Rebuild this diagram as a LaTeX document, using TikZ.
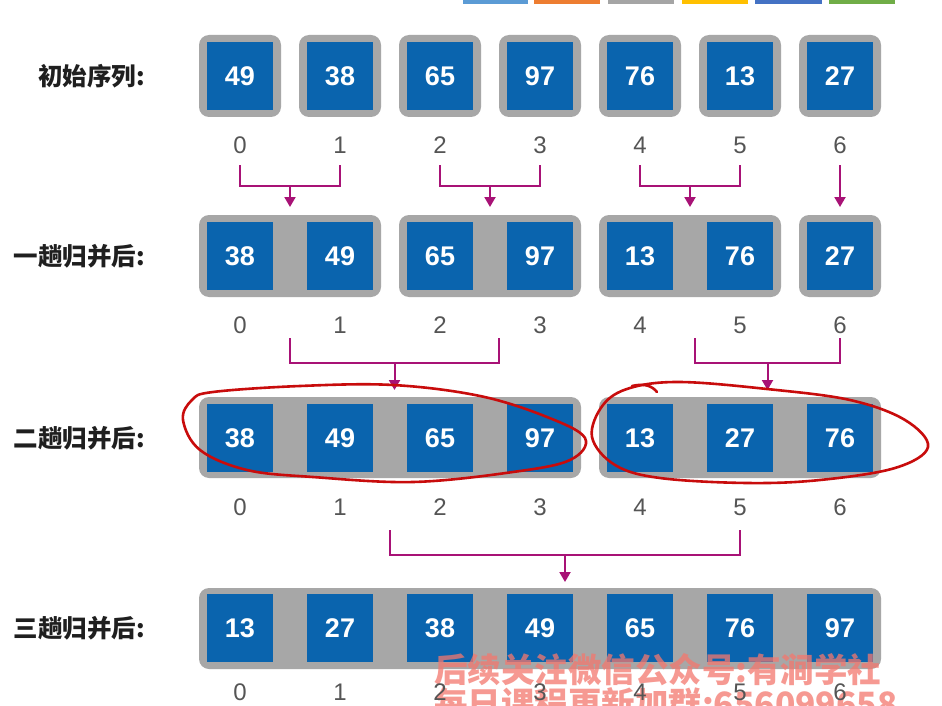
\documentclass[tikz,border=0pt]{standalone}
\usepackage{fontspec}
\setmainfont{Liberation Sans}
\newfontfamily\cjk{Noto Sans CJK SC}
\usetikzlibrary{arrows.meta}
\definecolor{cellblue}{RGB}{10,100,174}
\definecolor{boxgray}{RGB}{167,167,167}
\definecolor{idxgray}{RGB}{85,85,85}
\definecolor{connc}{RGB}{168,18,118}
\definecolor{pen}{RGB}{200,12,12}
\definecolor{wmc}{RGB}{244,120,110}
\definecolor{barA}{RGB}{91,155,213}
\definecolor{barB}{RGB}{237,125,49}
\definecolor{barC}{RGB}{165,165,165}
\definecolor{barD}{RGB}{255,192,0}
\definecolor{barE}{RGB}{68,114,196}
\definecolor{barF}{RGB}{112,173,71}
\begin{document}
\begin{tikzpicture}[x=1pt,y=-1pt,
  grp/.style={fill=boxgray, rounded corners=10pt},
  cell/.style={fill=cellblue, minimum width=66pt, minimum height=68pt, inner sep=0pt, text=white, font=\fontsize{27}{27}\selectfont\bfseries},
  idx/.style={text=idxgray, inner sep=0pt, font=\fontsize{24}{24}\selectfont},
  lbl/.style={anchor=east, inner sep=0pt, text=black!88, font=\cjk\bfseries\fontsize{24.5}{24.5}\selectfont},
  connl/.style={draw=connc, line width=2pt},
  arr/.style={draw=connc, line width=2pt, -{Triangle[length=10pt,width=11pt]}},
  ring/.style={draw=pen, line width=2.6pt, line join=round, line cap=round},
  wm/.style={anchor=west, inner sep=0pt, text=wmc, text opacity=0.75, font=\cjk\bfseries\fontsize{33.5}{33.5}\selectfont},
  bar/.style={fill=#1}
]
\useasboundingbox (0,0) rectangle (942,706);
\fill[white] (0,0) rectangle (942,706);

% top colour bars
\fill[bar=barA] (463,0) rectangle (528,4);
\fill[bar=barB] (534,0) rectangle (600,4);
\fill[bar=barC] (608,0) rectangle (674,4);
\fill[bar=barD] (682,0) rectangle (748,4);
\fill[bar=barE] (755,0) rectangle (822,4);
\fill[bar=barF] (829,0) rectangle (895,4);

% row labels
\node[lbl] (L1) at (145,76) {初始序列:};
\node[lbl] (L2) at (145,256) {一趟归并后:};
\node[lbl] (L3) at (145,438) {二趟归并后:};
\node[lbl] (L4) at (145,628) {三趟归并后:};

% group boxes
% row 1
\foreach \i in {0,...,6} {\fill[grp] ({199+100*\i},35) rectangle ({281+100*\i},117);}
% row 2
\fill[grp] (199,215) rectangle (381,297);
\fill[grp] (399,215) rectangle (581,297);
\fill[grp] (599,215) rectangle (781,297);
\fill[grp] (799,215) rectangle (881,297);
% row 3
\fill[grp] (199,397) rectangle (581,478);
\fill[grp] (599,397) rectangle (881,478);
% row 4
\fill[grp] (199,588) rectangle (881,669);

% cells
\foreach \v [count=\j from 0] in {49,38,65,97,76,13,27}
  {\node[cell] (a\j) at ({240+100*\j},76) {\v};}
\foreach \v [count=\j from 0] in {38,49,65,97,13,76,27}
  {\node[cell] (b\j) at ({240+100*\j},256) {\v};}
\foreach \v [count=\j from 0] in {38,49,65,97,13,27,76}
  {\node[cell] (c\j) at ({240+100*\j},438) {\v};}
\foreach \v [count=\j from 0] in {13,27,38,49,65,76,97}
  {\node[cell] (d\j) at ({240+100*\j},628) {\v};}

% indices
\foreach \j in {0,...,6} {
  \node[idx] (ia\j) at ({240+100*\j},145) {\j};
  \node[idx] (ib\j) at ({240+100*\j},325) {\j};
  \node[idx] (ic\j) at ({240+100*\j},507) {\j};
}

% connectors: row 1 -> row 2
\foreach \p in {240,440,640} {
  \coordinate (s1) at (\p,165);
  \coordinate (s2) at (\p+100,165);
  \coordinate (m) at (\p+50,186);
  \coordinate (t) at (\p+50,207);
  \draw[connl] (s1) |- (m) -| (s2);
  \draw[arr] (m) -- (t);
}
\coordinate (s6) at (840,165);
\coordinate (t6) at (840,207);
\draw[arr] (s6) -- (t6);

% row 2 -> row 3
\coordinate (u1) at (290,338);
\coordinate (u2) at (499,338);
\coordinate (um) at (394.5,363);
\coordinate (ut) at (394.5,390);
\draw[connl] (u1) |- (um) -| (u2);
\draw[arr] (um) -- (ut);
\coordinate (v1) at (695,338);
\coordinate (v2) at (840,338);
\coordinate (vm) at (767.5,363);
\coordinate (vt) at (767.5,390);
\draw[connl] (v1) |- (vm) -| (v2);
\draw[arr] (vm) -- (vt);

% row 3 -> row 4
\coordinate (w1) at (390,530);
\coordinate (w2) at (740,530);
\coordinate (wmid) at (565,555);
\coordinate (wt) at (565,582);
\draw[connl] (w1) |- (wmid) -| (w2);
\draw[arr] (wmid) -- (wt);

% hand-drawn red rings
\draw[ring] plot[smooth cycle, tension=0.6] coordinates {
  (213,392) (300,386) (393,385) (480,396) (547,417) (585,438) (570,460)
  (513,472) (413,482) (313,477) (247,470) (200,450) (183,420) (192,400)};
\draw[ring] plot[smooth cycle, tension=0.6] coordinates {
  (680,382) (767,389) (850,400) (905,420) (928,447) (895,468) (820,480)
  (747,483) (660,478) (615,465) (592,437) (603,405) (630,388)};
\draw[ring] (632,386) .. controls (645,383) and (652,386) .. (657,392);

% watermark
\node[wm] (wm1) at (434,670) {后续关注微信公众号:有涧学社};
\node[wm] (wm2) at (434,704) {每日课程更新加群:656099658};

% bottom indices (printed over the watermark)
\foreach \j in {0,...,6} {
  \node[idx] (id\j) at ({240+100*\j},692) {\j};
}
\end{tikzpicture}
\end{document}
